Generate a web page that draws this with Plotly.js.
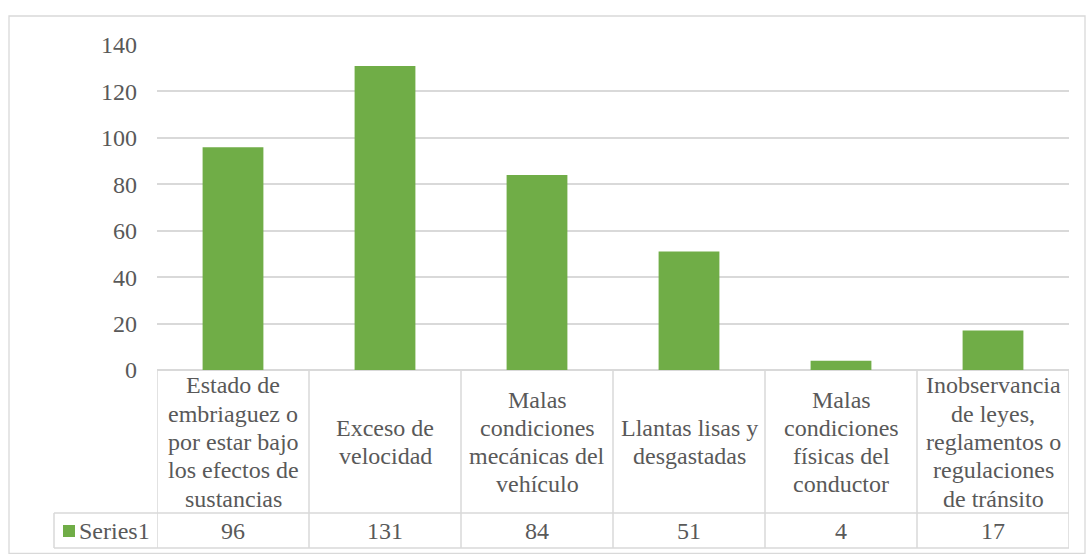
<!DOCTYPE html>
<html>
<head>
<meta charset="utf-8">
<script src="https://cdn.plot.ly/plotly-3.0.1.min.js"></script>
</head>
<body style="margin:0;padding:0;background:#fff;">
<div id="chart"></div>
<script>
// ---- data ----
const categories = [
  "Estado de<br>embriaguez o<br>por estar bajo<br>los efectos de<br>sustancias",
  "Exceso de<br>velocidad",
  "Malas<br>condiciones<br>mecánicas del<br>vehículo",
  "Llantas lisas y<br>desgastadas",
  "Malas<br>condiciones<br>físicas del<br>conductor",
  "Inobservancia<br>de leyes,<br>reglamentos o<br>regulaciones<br>de tránsito"
];
const seriesName = "Series1";
const values = [96, 131, 84, 51, 4, 17];
const yTicks = [0, 20, 40, 60, 80, 100, 120, 140];

// ---- layout helpers ----
const W = 1086, H = 554;
const M = {l: 157, r: 17, t: 45, b: 184};
const PW = W - M.l - M.r, PH = H - M.t - M.b;
const px = x => (x - M.l) / PW;          // pixel -> paper x
const py = y => (H - M.b - y) / PH;      // pixel -> paper y
const txtColor = "#595959", lineColor = "#d9d9d9";
const FONT = "serif";
const fs = 24;

const catIdx = categories.map((c, i) => i);
const shapes = [];
const annotations = [];

// table geometry (pixels)
const rowTop = 370, rowMid = 513, rowBot = 548, legLeft = 54;
const catCenter = 442, lineGap = 28.3, valCenter = 531;

// outer border
shapes.push({type: "rect", xref: "paper", yref: "paper", x0: px(9), x1: px(1085), y0: py(553.5), y1: py(16),
  line: {color: lineColor, width: 1.3}, layer: "below"});

// vertical column lines
for (let i = 0; i <= categories.length; i++) {
  shapes.push({type: "line", xref: "x", yref: "paper", x0: i - 0.5, x1: i - 0.5, y0: py(rowTop), y1: py(rowBot),
    line: {color: lineColor, width: 1.5}});
}
// horizontal table lines
shapes.push({type: "line", xref: "paper", yref: "paper", x0: px(legLeft), x1: 1, y0: py(rowMid), y1: py(rowMid), line: {color: lineColor, width: 1.5}});
shapes.push({type: "line", xref: "paper", yref: "paper", x0: px(legLeft), x1: 1, y0: py(rowBot), y1: py(rowBot), line: {color: lineColor, width: 1.5}});
shapes.push({type: "line", xref: "paper", yref: "paper", x0: px(legLeft), x1: px(legLeft), y0: py(rowMid), y1: py(rowBot), line: {color: lineColor, width: 1.5}});

// legend key
shapes.push({type: "rect", xref: "paper", yref: "paper", x0: px(63), x1: px(75), y0: py(537), y1: py(525),
  fillcolor: "#70ad47", line: {width: 0}});
annotations.push({xref: "paper", yref: "paper", x: px(77), y: py(valCenter), xanchor: "left", yanchor: "middle",
  text: seriesName, showarrow: false, font: {family: FONT, size: fs, color: txtColor}});

// category labels (one annotation per line for tight Excel-like spacing)
categories.forEach((c, i) => {
  const lines = c.split("<br>");
  const n = lines.length;
  lines.forEach((ln, k) => {
    const yc = catCenter + (k - (n - 1) / 2) * lineGap;
    annotations.push({xref: "x", yref: "paper", x: i, y: py(yc), xanchor: "center", yanchor: "middle",
      text: ln, showarrow: false, font: {family: FONT, size: fs, color: txtColor}});
  });
  annotations.push({xref: "x", yref: "paper", x: i, y: py(valCenter), xanchor: "center", yanchor: "middle",
    text: String(values[i]), showarrow: false, font: {family: FONT, size: fs, color: txtColor}});
});

const trace = {
  type: "bar", x: catIdx, y: values, name: seriesName,
  marker: {color: "#70ad47", line: {width: 0}},
  hoverinfo: "y"
};

const layout = {
  width: W, height: H,
  margin: M,
  paper_bgcolor: "#ffffff", plot_bgcolor: "#ffffff",
  showlegend: false,
  bargap: 0.6,
  xaxis: {type: "linear", range: [-0.5, categories.length - 0.5], showticklabels: false, showgrid: false,
    zeroline: false, showline: false, ticks: "", fixedrange: true},
  yaxis: {range: [0, 140], tickvals: yTicks, ticktext: yTicks.map(String), showgrid: true, gridcolor: lineColor, gridwidth: 1.5,
    zeroline: true, zerolinecolor: lineColor, zerolinewidth: 1.5, showline: false, ticks: "",
    ticklabelstandoff: 19, tickfont: {family: FONT, size: 24, color: txtColor}, fixedrange: true},
  shapes: shapes,
  annotations: annotations
};

Plotly.newPlot("chart", [trace], layout, {displayModeBar: false});
</script>
</body>
</html>
